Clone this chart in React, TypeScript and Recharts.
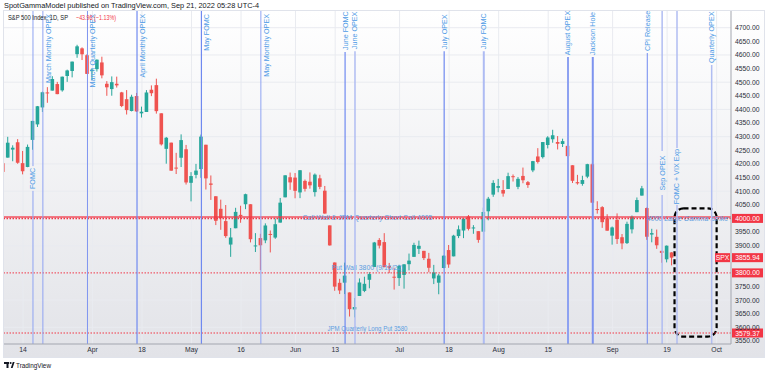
import {
  Bar,
  CartesianGrid,
  ComposedChart,
  ReferenceArea,
  ReferenceLine,
  XAxis,
  YAxis,
} from "recharts"

// SPX daily candles, 2022-03-08 .. 2022-09-20 (index = trading day)
const DATES = [
  "03-08", "03-09", "03-10", "03-11", "03-14", "03-15", "03-16", "03-17", "03-18", "03-21",
  "03-22", "03-23", "03-24", "03-25", "03-28", "03-29", "03-30", "03-31", "04-01", "04-04",
  "04-05", "04-06", "04-07", "04-08", "04-11", "04-12", "04-13", "04-14", "04-18", "04-19",
  "04-20", "04-21", "04-22", "04-25", "04-26", "04-27", "04-28", "04-29", "05-02", "05-03",
  "05-04", "05-05", "05-06", "05-09", "05-10", "05-11", "05-12", "05-13", "05-16", "05-17",
  "05-18", "05-19", "05-20", "05-23", "05-24", "05-25", "05-26", "05-27", "05-31", "06-01",
  "06-02", "06-03", "06-06", "06-07", "06-08", "06-09", "06-10", "06-13", "06-14", "06-15",
  "06-16", "06-17", "06-21", "06-22", "06-23", "06-24", "06-27", "06-28", "06-29", "06-30",
  "07-01", "07-05", "07-06", "07-07", "07-08", "07-11", "07-12", "07-13", "07-14", "07-15",
  "07-18", "07-19", "07-20", "07-21", "07-22", "07-25", "07-26", "07-27", "07-28", "07-29",
  "08-01", "08-02", "08-03", "08-04", "08-05", "08-08", "08-09", "08-10", "08-11", "08-12",
  "08-15", "08-16", "08-17", "08-18", "08-19", "08-22", "08-23", "08-24", "08-25", "08-26",
  "08-29", "08-30", "08-31", "09-01", "09-02", "09-06", "09-07", "09-08", "09-09", "09-12",
  "09-13", "09-14", "09-15", "09-16", "09-19", "09-20",
]

const OPEN = [
  4202.7, 4223.1, 4252.6, 4279.5, 4202.8, 4188.8, 4288.1, 4345.1, 4407.3, 4462.4,
  4469.1, 4493.1, 4470.0, 4522.7, 4541.1, 4602.9, 4624.2, 4599.0, 4540.3, 4548.0,
  4572.5, 4494.2, 4474.7, 4494.2, 4462.6, 4437.6, 4394.3, 4449.1, 4385.6, 4390.6,
  4472.3, 4489.2, 4385.8, 4255.3, 4278.1, 4186.5, 4222.6, 4253.8, 4130.6, 4159.8,
  4181.2, 4270.4, 4128.2, 4081.3, 4035.2, 3990.1, 3904.0, 3963.9, 4013.0, 4052.0,
  4052.0, 3899.0, 3927.8, 3919.4, 3942.9, 3929.6, 3984.6, 4077.4, 4151.1, 4149.8,
  4095.4, 4137.6, 4134.7, 4096.5, 4147.1, 4101.7, 3974.4, 3838.2, 3763.5, 3764.1,
  3728.2, 3665.9, 3715.3, 3733.9, 3774.7, 3821.8, 3920.8, 3913.0, 3825.1, 3786.0,
  3781.0, 3792.6, 3832.0, 3858.9, 3888.3, 3880.9, 3852.0, 3779.7, 3764.0, 3818.0,
  3883.8, 3860.7, 3935.3, 3955.5, 4007.1, 3965.7, 3953.2, 3951.4, 4026.1, 4087.3,
  4112.4, 4104.2, 4108.0, 4154.9, 4115.9, 4155.9, 4133.1, 4176.2, 4227.4, 4225.0,
  4269.4, 4290.5, 4280.4, 4273.1, 4266.3, 4195.1, 4133.1, 4126.6, 4153.3, 4198.7,
  4034.6, 4041.3, 4000.7, 3936.7, 3994.7, 3930.9, 3909.4, 3959.9, 4022.9, 4083.7,
  4038.0, 3940.7, 3932.4, 3881.0, 3849.9, 3875.2,
]

const HIGH = [
  4276.9, 4299.4, 4268.3, 4291.0, 4247.6, 4271.1, 4358.0, 4412.7, 4465.4, 4481.8,
  4522.0, 4501.1, 4520.6, 4546.0, 4575.6, 4637.3, 4627.8, 4603.1, 4548.7, 4583.5,
  4593.5, 4503.9, 4521.2, 4520.4, 4464.4, 4471.0, 4453.9, 4460.5, 4410.3, 4471.0,
  4488.3, 4512.9, 4385.8, 4299.0, 4278.1, 4240.7, 4308.5, 4269.7, 4169.8, 4200.1,
  4307.7, 4270.4, 4157.7, 4081.3, 4068.8, 4049.1, 3964.8, 4038.9, 4046.5, 4090.7,
  4052.0, 3946.0, 3943.4, 3981.9, 3955.7, 3999.3, 4075.1, 4158.5, 4168.3, 4166.5,
  4177.5, 4142.7, 4168.8, 4164.9, 4160.1, 4119.1, 3974.4, 3838.2, 3778.2, 3837.6,
  3728.2, 3707.7, 3779.7, 3786.0, 3802.6, 3913.7, 3927.7, 3945.9, 3836.5, 3819.0,
  3829.8, 3832.2, 3870.9, 3910.6, 3918.5, 3880.9, 3873.4, 3829.4, 3796.4, 3863.6,
  3902.4, 3939.8, 3974.1, 3999.3, 4012.4, 3975.3, 3953.2, 4039.6, 4078.9, 4140.2,
  4145.0, 4140.5, 4167.7, 4161.3, 4151.6, 4186.6, 4137.3, 4211.0, 4257.9, 4280.5,
  4301.8, 4325.3, 4302.2, 4292.5, 4266.3, 4195.1, 4159.8, 4156.6, 4200.5, 4203.0,
  4063.0, 4045.0, 4015.4, 3970.2, 4018.4, 3942.6, 3987.9, 4010.5, 4076.8, 4119.3,
  4040.0, 3961.9, 3959.1, 3881.0, 3900.5, 3876.0,
]

const LOW = [
  4157.9, 4223.1, 4209.8, 4200.5, 4161.7, 4187.9, 4252.0, 4335.7, 4390.6, 4424.3,
  4469.1, 4455.8, 4465.2, 4501.1, 4517.7, 4589.7, 4581.3, 4530.4, 4507.6, 4539.2,
  4514.2, 4450.0, 4450.3, 4480.3, 4408.4, 4381.3, 4392.7, 4390.8, 4370.3, 4390.6,
  4448.8, 4384.5, 4267.6, 4200.8, 4175.0, 4162.9, 4188.6, 4124.3, 4062.5, 4147.1,
  4148.9, 4106.0, 4067.9, 3975.5, 3958.2, 3928.8, 3858.9, 3963.9, 3984.0, 4033.9,
  3911.9, 3876.6, 3810.3, 3909.0, 3875.1, 3925.0, 3984.6, 4077.4, 4104.9, 4073.9,
  4074.4, 4098.7, 4109.2, 4080.2, 4107.2, 4017.2, 3900.2, 3734.3, 3722.3, 3722.3,
  3639.8, 3636.9, 3715.3, 3729.3, 3743.5, 3821.8, 3889.7, 3820.1, 3799.0, 3738.7,
  3752.1, 3742.1, 3809.4, 3858.9, 3869.3, 3847.2, 3802.4, 3758.9, 3721.6, 3817.2,
  3818.6, 3860.7, 3927.7, 3927.6, 3955.8, 3943.5, 3910.7, 3951.4, 3993.0, 4079.2,
  4096.0, 4079.8, 4108.0, 4135.4, 4107.3, 4129.0, 4112.1, 4169.8, 4201.4, 4219.8,
  4256.9, 4277.8, 4253.1, 4262.0, 4218.7, 4129.9, 4124.0, 4120.0, 4147.6, 4057.7,
  4017.4, 3965.2, 3954.5, 3903.7, 3906.2, 3886.8, 3906.0, 3944.8, 4022.9, 4083.7,
  3921.3, 3912.3, 3888.3, 3837.1, 3838.5, 3827.5,
]

const CLOSE = [
  4170.7, 4277.9, 4259.5, 4204.3, 4173.1, 4262.5, 4357.9, 4411.7, 4463.1, 4461.2,
  4511.6, 4456.2, 4520.2, 4543.1, 4575.5, 4631.6, 4602.5, 4530.4, 4545.9, 4582.6,
  4525.1, 4481.2, 4500.2, 4488.3, 4412.5, 4397.5, 4446.6, 4392.6, 4391.7, 4462.2,
  4459.5, 4393.7, 4271.8, 4296.1, 4175.2, 4184.0, 4287.5, 4131.9, 4155.4, 4175.5,
  4300.2, 4146.9, 4123.3, 3991.2, 4001.1, 3935.2, 3930.1, 4023.9, 4008.0, 4088.9,
  3923.7, 3900.8, 3901.4, 3974.0, 3941.5, 3978.7, 4057.8, 4158.2, 4132.2, 4101.2,
  4176.8, 4108.5, 4121.4, 4160.7, 4115.8, 4017.8, 3900.9, 3749.6, 3735.5, 3790.0,
  3666.8, 3674.8, 3764.8, 3759.9, 3795.7, 3911.7, 3900.1, 3821.6, 3818.8, 3785.4,
  3825.3, 3831.4, 3845.1, 3902.6, 3899.4, 3854.4, 3818.8, 3801.8, 3790.4, 3863.2,
  3830.9, 3936.7, 3959.9, 3999.0, 3961.6, 3966.8, 3921.1, 4023.6, 4072.4, 4130.3,
  4118.6, 4091.2, 4155.2, 4151.9, 4145.2, 4140.1, 4122.5, 4210.2, 4207.3, 4280.2,
  4297.1, 4305.2, 4274.0, 4283.7, 4228.5, 4138.0, 4128.7, 4140.8, 4199.1, 4057.7,
  4030.6, 3986.2, 3955.0, 3966.9, 3924.3, 3908.2, 3979.9, 4006.2, 4067.4, 4110.4,
  3932.7, 3946.0, 3901.4, 3873.3, 3899.9, 3855.94,
]

const CHANGE = -43.96
const CHANGE_PCT = -1.13

// x axis: trading-day index -> label
const X_TICKS = [4, 18, 28, 38, 48, 59, 67, 80, 90, 100, 110, 123, 134, 144]
const X_TICK_LABELS = ["14", "Apr", "18", "May", "16", "Jun", "13", "Jul", "18", "Aug", "15", "Sep", "19", "Oct"]

// price scale (4000 / 3850 / 3800 are hidden under the price badges)
const Y_TICKS = [
  4700, 4650, 4600, 4550, 4500, 4450, 4400, 4350, 4300, 4250, 4200, 4150, 4100, 4050,
  3950, 3900, 3750, 3700, 3650, 3600, 3550,
]
const GRID_Y = [3600, 3700, 3800, 3900, 4000, 4100, 4200, 4300, 4400, 4500, 4600, 4700]

// event markers
const EVENT_IDX = [6, 8, 17, 27, 40, 52, 69, 71, 89, 97, 114, 119, 130, 133, 136, 143]
const EVENT_TEXT = [
  "FOMC", "March Monthly OPEX", "March Quarterly OPEX", "April Monthly OPEX", "May FOMC",
  "May Monthly OPEX", "June FOMC", "June OPEX", "July OPEX", "July FOMC", "August OPEX",
  "Jackson Hole", "CPI Release", "Sep OPEX", "FOMC + VIX Exp", "Quarterly OPEX",
]

// key levels
const LEVELS = [4005, 4000, 3800, 3579.37]
const LEVEL_TEXT = [
  "Call Wall & JPM Quarterly Short Call 4005",
  "4000 Large Gamma Strike",
  "Put Wall 3800 (9/16/22)",
  "JPM Quarterly Long Put 3580",
]
const BADGES = [4000, 3800, 3579.37]

// highlighted window
const BOX_X = [135.5, 144]
const BOX_Y = [3566, 4037]

const X_MIN = 0.15
const X_MAX = 146.9
const Y_MIN = 3539
const Y_MAX = 4761.3

const FONT = "'Liberation Sans', Arial, sans-serif"
const RED = "#f23645"
const UP = "#26a69a"
const DOWN = "#ef5350"
const LABEL_BLUE = "#4f9be6"
const TEXT = "#131722"

// label placement per event: side = text beside the line, top = text above the line start,
// gap = text sitting in a break of the line
const EVENT_LAYOUT: [string, number?, number?][] = [
  ["gap", 4192, 4101], ["side"], ["side"], ["side"], ["side"], ["side"],
  ["top", 4611], ["top", 4614], ["top", 4614], ["top", 4614], ["top", 4592],
  ["top", 4592], ["top", 4607], ["gap", 4247, 4086], ["gap", 4258, 4049], ["top", 4563],
]
const EVENT_STYLE: [string, number][] = [
  ["#8fa3f2", 1], ["#8fa3f2", 1], ["#7f95f0", 1], ["#6f89f0", 1.2], ["#6f89f0", 1.2],
  ["#8fa3f2", 1], ["#6f89f0", 1.2], ["#b0bdf2", 1.5], ["#6f89f0", 1.2], ["#aebbf3", 2],
  ["#8da1f1", 2], ["#7d93ef", 2], ["#6f89f0", 1], ["#b0bdf2", 1.5], ["#b0bdf2", 1.5],
  ["#b0bdf2", 1.5],
]

const data = DATES.map((date, i) => ({
  i,
  date,
  open: OPEN[i],
  high: HIGH[i],
  low: LOW[i],
  close: CLOSE[i],
  range: [LOW[i], HIGH[i]],
}))

const Candle = (props: any) => {
  const { x, y, width, height, payload } = props
  const { open, close, high, low } = payload
  const cx = x + width / 2
  const px = (v: number) => y + ((high - v) / (high - low)) * height
  const color = close >= open ? UP : DOWN
  const top = px(Math.max(open, close))
  const bot = px(Math.min(open, close))
  return (
    <g>
      <line x1={cx} x2={cx} y1={y} y2={y + height} stroke={color} strokeWidth={1} />
      <rect x={cx - 1.8} y={top} width={3.6} height={Math.max(bot - top, 1)} fill={color} />
    </g>
  )
}

const eventLabel = (k: number) => (p: any) => {
  const vb = p.viewBox
  if (!vb) return null
  const py = (v: number) => vb.y + ((Y_MAX - v) / (Y_MAX - Y_MIN)) * vb.height
  const [mode, a, b] = EVENT_LAYOUT[k]
  let x = vb.x
  let y = 0
  let anchor = "middle"
  if (mode === "side") {
    x = vb.x + 5.2
    y = vb.y + 3
    anchor = "end"
  } else if (mode === "top") {
    y = py(a as number) - 2
    anchor = "start"
  } else {
    y = (py(a as number) + py(b as number)) / 2
  }
  return (
    <text
      x={x}
      y={y}
      transform={`rotate(-90 ${x} ${y})`}
      textAnchor={anchor}
      dominantBaseline="central"
      fill={LABEL_BLUE}
      fontSize={7.2}
      fontFamily={FONT}
    >
      {EVENT_TEXT[k]}
    </text>
  )
}

// [align, dy, width, italic]
const LEVEL_LABEL_STYLE: [string, number, number, boolean][] = [
  ["center", 0, 130, false],
  ["right", 0, 81, true],
  ["center", -5, 72, false],
  ["center", -5, 80, false],
]

const levelLabel = (k: number) => (p: any) => {
  const vb = p.viewBox
  if (!vb) return null
  const [align, dy, w, italic] = LEVEL_LABEL_STYLE[k]
  const x = align === "center" ? vb.x + vb.width / 2 : vb.x + vb.width - 3
  return (
    <text
      x={x}
      y={vb.y + dy}
      textAnchor={align === "center" ? "middle" : "end"}
      dominantBaseline="central"
      fill="#5c9de0"
      fontSize={7.2}
      fontStyle={italic ? "italic" : "normal"}
      fontFamily={FONT}
      textLength={w}
      lengthAdjust="spacingAndGlyphs"
    >
      {LEVEL_TEXT[k]}
    </text>
  )
}

const badge = (text: string, tag?: string) => (p: any) => {
  const vb = p.viewBox
  if (!vb) return null
  const x = vb.x + vb.width + 1
  const y = vb.y
  return (
    <g fontFamily={FONT} fontSize={6.8}>
      {tag && <rect x={x - 17} y={y - 4.5} width={15} height={9} fill={RED} />}
      {tag && (
        <text x={x - 9.5} y={y} textAnchor="middle" dominantBaseline="central" fill="#fff">
          {tag}
        </text>
      )}
      <rect x={x} y={y - 4.5} width={31} height={9} fill={RED} />
      <text x={x + 15.5} y={y} textAnchor="middle" dominantBaseline="central" fill="#fff">
        {text}
      </text>
    </g>
  )
}

const DashedBox = (p: any) => (
  <rect
    x={p.x}
    y={p.y}
    width={p.width}
    height={p.height}
    rx={9}
    ry={9}
    fill="none"
    stroke="#000"
    strokeWidth={2.2}
    strokeDasharray="5 3"
  />
)

export default function App() {
  const last = CLOSE[CLOSE.length - 1]

  const eventLines = EVENT_IDX.flatMap((xi, k) => {
    const [mode, a, b] = EVENT_LAYOUT[k]
    const [color, w] = EVENT_STYLE[k]
    const segs: [number, number][] =
      mode === "side" ? [[Y_MIN, Y_MAX]] : mode === "top" ? [[Y_MIN, a as number]] : [[Y_MIN, b as number], [a as number, Y_MAX]]
    const lines = segs.map(([lo, hi], s) => (
      <ReferenceLine
        key={`ev-${k}-${s}`}
        segment={[{ x: xi, y: lo }, { x: xi, y: hi }]}
        stroke={color}
        strokeWidth={w}
        ifOverflow="hidden"
      />
    ))
    lines.push(<ReferenceLine key={`evl-${k}`} x={xi} stroke="none" label={eventLabel(k)} />)
    return lines
  })

  return (
    <div style={{ position: "absolute", left: 0, top: 0, width: 768, height: 373, background: "#fff", fontFamily: FONT }}>
      <div
        style={{
          position: "absolute",
          left: 3,
          top: 10,
          width: 762,
          height: 348,
          boxSizing: "border-box",
          border: "1px solid #e0e3eb",
          background: "linear-gradient(#ffffff, #e2e3e8)",
        }}
      />
      <div style={{ position: "absolute", left: 0, top: 0 }}>
        <ComposedChart width={768} height={373} data={data} margin={{ top: 11, right: 3, bottom: 15, left: 4 }}>
          <CartesianGrid
            stroke="#e9ebf0"
            horizontalValues={GRID_Y}
            verticalValues={X_TICKS}
          />
          <XAxis
            dataKey="i"
            type="number"
            domain={[X_MIN, X_MAX]}
            allowDataOverflow
            ticks={X_TICKS}
            interval={0}
            tickFormatter={(v: number) => X_TICK_LABELS[X_TICKS.indexOf(v)] ?? ""}
            height={14}
            tickLine={false}
            tickSize={0}
            tickMargin={3}
            axisLine={{ stroke: "#a3a6af" }}
            tick={{ fill: "#2a2e39", fontSize: 6.8, fontFamily: FONT }}
          />
          <YAxis
            orientation="right"
            type="number"
            domain={[Y_MIN, Y_MAX]}
            allowDataOverflow
            ticks={Y_TICKS}
            interval={0}
            tickFormatter={(v: number) => v.toFixed(2)}
            width={34}
            tickLine={false}
            tickSize={0}
            tickMargin={4}
            axisLine={{ stroke: "#a3a6af" }}
            tick={{ fill: "#2a2e39", fontSize: 6.8, fontFamily: FONT }}
          />

          <Bar dataKey="range" barSize={4} shape={<Candle />} isAnimationActive={false} />

          <ReferenceLine y={LEVELS[0]} stroke={RED} strokeWidth={1.6} strokeOpacity={0.85} label={levelLabel(0)} />
          <ReferenceLine y={LEVELS[1]} stroke={RED} strokeWidth={1.5} strokeDasharray="1.5 1.5" label={levelLabel(1)} />
          <ReferenceLine y={LEVELS[2]} stroke={RED} strokeWidth={1} strokeDasharray="1.5 1.5" label={levelLabel(2)} />
          <ReferenceLine y={LEVELS[3]} stroke={RED} strokeWidth={1} strokeDasharray="1.5 1.5" label={levelLabel(3)} />

          {eventLines}

          <ReferenceArea x1={BOX_X[0]} x2={BOX_X[1]} y1={BOX_Y[0]} y2={BOX_Y[1]} shape={DashedBox} />

          {BADGES.map((v) => (
            <ReferenceLine key={`b-${v}`} y={v} stroke="none" label={badge(v.toFixed(2))} />
          ))}
          <ReferenceLine y={last} stroke="none" label={badge(last.toFixed(2), "SPX")} />
        </ComposedChart>
      </div>
      <svg width={768} height={373} style={{ position: "absolute", left: 0, top: 0, pointerEvents: "none" }}>
        <text x={4} y={5} dominantBaseline="central" fontSize={7.5} fill={TEXT} fontFamily={FONT} textLength={255} lengthAdjust="spacingAndGlyphs">
          SpotGammaModel published on TradingView.com, Sep 21, 2022 05:28 UTC-4
        </text>
        <text x={8} y={17.5} dominantBaseline="central" fontSize={7.2} fill={TEXT} fontFamily={FONT} textLength={60} lengthAdjust="spacingAndGlyphs">
          S&amp;P 500 Index, 1D, SP
        </text>
        <text x={76} y={17.5} dominantBaseline="central" fontSize={7.2} fill={RED} fontFamily={FONT} textLength={40} lengthAdjust="spacingAndGlyphs">
          {`\u2212${Math.abs(CHANGE).toFixed(2)} (\u2212${Math.abs(CHANGE_PCT).toFixed(2)}%)`}
        </text>
        <g fill={TEXT}>
          <rect x={4} y={362} width={5} height={2} />
          <rect x={6.5} y={362} width={2} height={6} />
          <circle cx={10.6} cy={363} r={1} />
          <polygon points="10.8,368 12.8,362 14.6,362 12.6,368" />
        </g>
        <text x={16} y={365} dominantBaseline="central" fontSize={7.5} fill={TEXT} fontFamily={FONT} textLength={35} lengthAdjust="spacingAndGlyphs">
          TradingView
        </text>
      </svg>
    </div>
  )
}
